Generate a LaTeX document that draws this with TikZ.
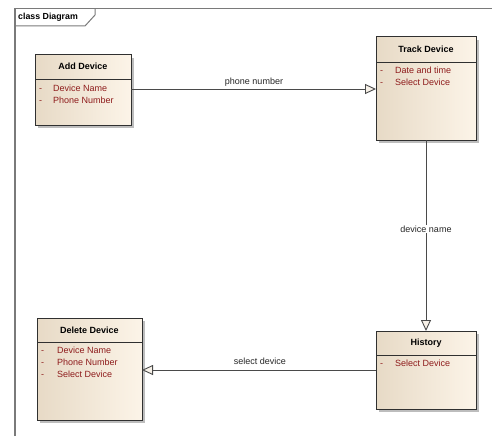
\documentclass[tikz,border=0pt]{standalone}
\usepackage{fontspec}
\setmainfont{Liberation Sans}
\usetikzlibrary{arrows.meta,calc}
\definecolor{boxL}{HTML}{E7DAC6}
\definecolor{boxR}{HTML}{FCF4E8}
\definecolor{attrc}{HTML}{8E1B1B}
\definecolor{framec}{HTML}{7A7A7A}
\definecolor{edgec}{HTML}{303030}
\definecolor{connc}{HTML}{4A4A4A}
\definecolor{shadowc}{HTML}{BDBDBD}
\definecolor{headfill}{HTML}{F7F1E8}
\tikzset{
  x=1pt, y=1pt,
  clsbox/.style={draw=edgec, line width=1pt, left color=boxL, right color=boxR,
    anchor=north west, inner sep=0pt, outer sep=0pt},
  sepline/.style={draw=edgec, line width=1pt},
  titletext/.style={font=\fontsize{9}{10}\selectfont\bfseries, inner sep=0pt, text=black,
    text height=6.6pt, text depth=1.8pt},
  attrtext/.style={font=\fontsize{9}{10}\selectfont, inner sep=0pt, anchor=west, text=attrc,
    text height=6.6pt, text depth=1.8pt},
  dashtext/.style={attrtext},
  conn/.style={draw=connc, line width=0.9pt,
    -{Triangle[length=11pt, width=10pt, fill=headfill]}},
  connlabel/.style={font=\fontsize{9}{10}\selectfont, inner sep=1pt, text=black!85},
  framel/.style={draw=framec, line width=1.4pt},
}
\newcommand\clsshape[5]{%
  \fill[shadowc] (#2+3,-#3-3) rectangle (#2+#4+3,-#3-#5-3);
  \node[clsbox, minimum width=#4pt, minimum height=#5pt] (#1) at (#2,-#3) {};
}
\begin{document}
\begin{tikzpicture}
\useasboundingbox (0,0) rectangle (492,-436);
\fill[white] (0,0) rectangle (492,-436);

% frame
\draw[framel] (15,-436) -- (15,-8.5) -- (492,-8.5);
\draw[framel, line width=1pt] (95,-8.5) -- (95,-15) -- (85,-26) -- (15,-26);
\node[titletext, anchor=west, font=\fontsize{8.8}{10}\selectfont\bfseries] (frametitle) at (18,-17) {class Diagram};

% Add Device
\clsshape{add}{35}{55}{96}{70}
\draw[sepline] (add.west |- 0,-79) -- (add.east |- 0,-79);
\node[titletext] (addT) at (83,-67.5) {Add Device};
\node[dashtext] (addD1) at (39,-89) {-};
\node[attrtext] (addA1) at (53,-89) {Device Name};
\node[dashtext] (addD2) at (39,-101) {-};
\node[attrtext] (addA2) at (53,-101) {Phone Number};

% Track Device
\clsshape{track}{376}{37}{100}{103}
\draw[sepline] (track.west |- 0,-62) -- (track.east |- 0,-62);
\node[titletext] (trackT) at (426,-50) {Track Device};
\node[dashtext] (trackD1) at (380,-71) {-};
\node[attrtext] (trackA1) at (395,-71) {Date and time};
\node[dashtext] (trackD2) at (380,-83) {-};
\node[attrtext] (trackA2) at (395,-83) {Select Device};

% Delete Device
\clsshape{del}{37}{318}{105}{102}
\draw[sepline] (del.west |- 0,-342) -- (del.east |- 0,-342);
\node[titletext] (delT) at (89.5,-331) {Delete Device};
\node[dashtext] (delD1) at (41,-351) {-};
\node[attrtext] (delA1) at (57,-351) {Device Name};
\node[dashtext] (delD2) at (41,-363) {-};
\node[attrtext] (delA2) at (57,-363) {Phone Number};
\node[dashtext] (delD3) at (41,-375) {-};
\node[attrtext] (delA3) at (57,-375) {Select Device};

% History
\clsshape{hist}{376}{331}{100}{78}
\draw[sepline] (hist.west |- 0,-355) -- (hist.east |- 0,-355);
\node[titletext] (histT) at (426,-343.5) {History};
\node[dashtext] (histD1) at (380,-364) {-};
\node[attrtext] (histA1) at (395,-364) {Select Device};

% connectors
\draw[conn] (add.east |- 0,-89) -- (track.west |- 0,-89);
\node[connlabel] (lab1) at (254,-82) {phone number};

\draw[conn] (track.south) -- (hist.north);
\node[connlabel, fill=white] (lab2) at (426,-229) {device name};

\draw[conn] (hist.west |- 0,-370) -- (del.east |- 0,-370);
\node[connlabel] (lab3) at (260,-361) {select device};
\end{tikzpicture}
\end{document}
